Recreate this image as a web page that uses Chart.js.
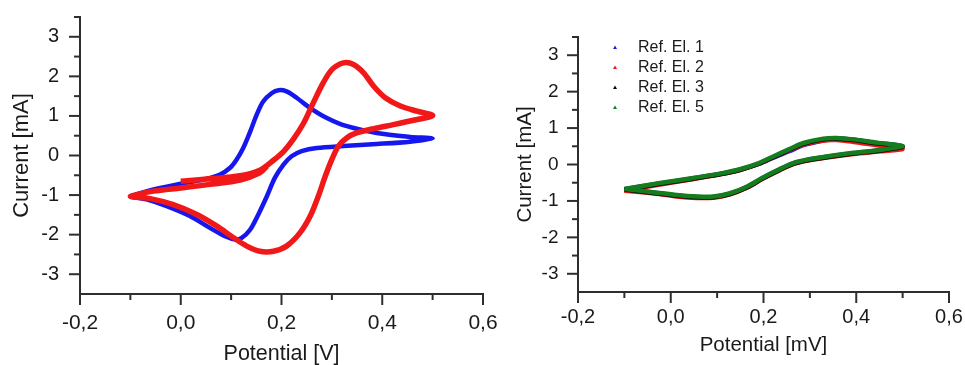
<!DOCTYPE html>
<html>
<head>
<meta charset="utf-8">
<script src="https://cdn.jsdelivr.net/npm/chart.js@4/dist/chart.umd.min.js"></script>
<style>
  html, body { margin: 0; padding: 0; background: #fff; }
  #wrap { position: relative; width: 965px; height: 365px; overflow: hidden; }
  #cvA { position: absolute; left: 0; top: 0; }
  #cvB { position: absolute; left: 490px; top: 0; }
</style>
</head>
<body>
<div id="wrap">
  <canvas id="cvA" width="510" height="365"></canvas>
  <canvas id="cvB" width="475" height="365"></canvas>
</div>
<script>
// ---- axis ticks ----
const potentialTicks = [-0.2, 0.0, 0.2, 0.4, 0.6];
const potentialMinor = [-0.1, 0.1, 0.3, 0.5];
const currentTicks = [-3, -2, -1, 0, 1, 2, 3];
const currentMinor = [-2.5, -1.5, -0.5, 0.5, 1.5, 2.5, 3.5];

// ---- left panel: two voltammograms ----
const leftBlueV = [-0.1, -0.054, 0.0, 0.045, 0.078, 0.098, 0.111, 0.124, 0.138, 0.151, 0.164, 0.181, 0.194, 0.21, 0.23, 0.257, 0.29, 0.33, 0.389, 0.455, 0.5,
                   0.455, 0.389, 0.323, 0.27, 0.24, 0.22, 0.204, 0.187, 0.171, 0.154, 0.138, 0.121, 0.108, 0.088, 0.058, 0.018, -0.028, -0.068, -0.1];
const leftBlueI = [-1.03, -0.86, -0.71, -0.61, -0.48, -0.31, -0.10, 0.19, 0.61, 1.04, 1.37, 1.58, 1.65, 1.62, 1.46, 1.20, 0.95, 0.74, 0.57, 0.47, 0.43,
                   0.35, 0.29, 0.24, 0.19, 0.11, -0.02, -0.23, -0.56, -1.03, -1.49, -1.87, -2.08, -2.12, -2.04, -1.83, -1.53, -1.28, -1.11, -1.03];

const leftRedV = [0.0, 0.058, 0.118, 0.157, 0.184, 0.204, 0.224, 0.244, 0.263, 0.283, 0.30, 0.323, 0.343, 0.363, 0.383, 0.406, 0.436, 0.469, 0.5,
                  0.462, 0.422, 0.383, 0.349, 0.33, 0.313, 0.30, 0.287, 0.273, 0.257, 0.237, 0.21, 0.184, 0.157, 0.131, 0.105, 0.071, 0.032, -0.015, -0.061, -0.1,
                  -0.054, 0.0, 0.058, 0.118, 0.157, 0.171];
const leftRedI = [-0.65, -0.59, -0.51, -0.37, -0.12, 0.10, 0.42, 0.82, 1.33, 1.84, 2.17, 2.34, 2.30, 2.09, 1.75, 1.46, 1.25, 1.12, 1.01,
                  0.89, 0.78, 0.68, 0.57, 0.45, 0.24, -0.10, -0.52, -1.03, -1.53, -1.95, -2.29, -2.42, -2.42, -2.29, -2.08, -1.78, -1.49, -1.24, -1.09, -1.03,
                  -0.90, -0.82, -0.73, -0.62, -0.44, -0.27];

// ---- right panel: reference electrodes ----
const refLabels = ['Ref. El. 1', 'Ref. El. 2', 'Ref. El. 3', 'Ref. El. 5'];
const refV = [-0.1, -0.023, 0.049, 0.106, 0.149, 0.19, 0.221, 0.257, 0.286, 0.329, 0.358, 0.394, 0.444, 0.5,
              0.451, 0.394, 0.336, 0.293, 0.264, 0.236, 0.2, 0.164, 0.128, 0.092, 0.056, 0.013, -0.038, -0.1];
const refEl1I = [-0.68, -0.52, -0.38, -0.26, -0.14, 0.02, 0.19, 0.37, 0.53, 0.66, 0.71, 0.68, 0.59, 0.50,
                 0.39, 0.31, 0.21, 0.12, 0.03, -0.13, -0.36, -0.62, -0.80, -0.89, -0.89, -0.85, -0.77, -0.68];
const refEl2I = [-0.72, -0.55, -0.40, -0.27, -0.15, 0.02, 0.20, 0.40, 0.55, 0.66, 0.67, 0.62, 0.53, 0.43,
                 0.36, 0.29, 0.19, 0.10, 0.01, -0.15, -0.38, -0.64, -0.82, -0.91, -0.92, -0.88, -0.79, -0.72];
const refEl3I = [-0.69, -0.53, -0.39, -0.27, -0.15, 0.02, 0.20, 0.41, 0.57, 0.69, 0.71, 0.67, 0.58, 0.49,
                 0.38, 0.30, 0.20, 0.11, 0.02, -0.14, -0.37, -0.63, -0.81, -0.90, -0.90, -0.86, -0.78, -0.69];
const refEl5I = [-0.67, -0.51, -0.37, -0.25, -0.13, 0.04, 0.22, 0.43, 0.59, 0.71, 0.73, 0.69, 0.60, 0.51,
                 0.40, 0.32, 0.22, 0.13, 0.04, -0.12, -0.35, -0.61, -0.79, -0.88, -0.88, -0.84, -0.76, -0.67];

const TEXT = '#1a1a1a';
const AXIS = '#2e2e2e';
const FONT = "'Liberation Sans', Arial, sans-serif";

Chart.defaults.font.family = FONT;
Chart.defaults.color = TEXT;

const pts = (xs, ys) => xs.map((v, i) => ({ x: v, y: ys[i] }));
const commaFmt = v => v.toFixed(1).replace('.', ',');

// Outward major/minor tick marks on the bottom and left axes
const axisTicks = {
  id: 'axisTicks',
  afterDraw(chart) {
    const { ctx, chartArea } = chart;
    const sx = chart.scales.x, sy = chart.scales.y;
    const seg = (x1, y1, x2, y2) => { ctx.beginPath(); ctx.moveTo(x1, y1); ctx.lineTo(x2, y2); ctx.stroke(); };
    ctx.save();
    ctx.strokeStyle = AXIS;
    ctx.lineWidth = 2;
    const b = chartArea.bottom, l = chartArea.left;
    potentialTicks.forEach(v => { const p = sx.getPixelForValue(v); seg(p, b, p, b + 11); });
    potentialMinor.forEach(v => { const p = sx.getPixelForValue(v); seg(p, b, p, b + 6); });
    currentTicks.forEach(v => { const p = sy.getPixelForValue(v); seg(l, p, l - 11, p); });
    currentMinor.forEach(v => { const p = sy.getPixelForValue(v); seg(l, p, l - 6, p); });
    ctx.restore();
  }
};

// Legend drawn as a column of small markers with labels
const refLegend = {
  id: 'refLegend',
  afterDraw(chart, args, opts) {
    const { ctx } = chart;
    ctx.save();
    ctx.font = opts.size + 'px ' + FONT;
    ctx.textBaseline = 'middle';
    ctx.textAlign = 'left';
    const order = [...chart.data.datasets].sort((a, b) => a.legendIndex - b.legendIndex);
    order.forEach((ds, i) => {
      const y = opts.top + i * opts.step;
      ctx.fillStyle = ds.borderColor;
      ctx.beginPath();
      ctx.moveTo(opts.markX, y - 2);
      ctx.lineTo(opts.markX + 2, y + 1.5);
      ctx.lineTo(opts.markX - 2, y + 1.5);
      ctx.closePath();
      ctx.fill();
      ctx.fillStyle = TEXT;
      ctx.fillText(ds.label, opts.textX, y);
    });
    ctx.restore();
  }
};

function axes(o) {
  return {
    x: {
      type: 'linear', min: -0.2, max: 0.6,
      afterBuildTicks: s => { s.ticks = potentialTicks.map(v => ({ value: v })); },
      afterFit: s => { s.height = o.xH; s.paddingLeft = 0; s.paddingRight = 0; },
      grid: { display: false, drawTicks: false },
      border: { display: true, color: AXIS, width: 2 },
      ticks: { autoSkip: false, maxRotation: 0, padding: o.xPad, color: TEXT,
               font: { size: o.xTick, lineHeight: 1 }, callback: v => commaFmt(v) },
      title: { display: true, text: o.xTitle, color: TEXT,
               font: { size: o.xTitleSize, lineHeight: 1 }, padding: { top: 0, bottom: o.xTitlePad } }
    },
    y: {
      type: 'linear', min: -3.5, max: 3.5,
      afterBuildTicks: s => { s.ticks = currentTicks.map(v => ({ value: v })); },
      afterFit: s => { s.width = o.yW; s.paddingTop = 0; s.paddingBottom = 0; },
      grid: { display: false, drawTicks: false },
      border: { display: true, color: AXIS, width: 2 },
      ticks: { padding: o.yPad, color: TEXT, font: { size: o.yTick, lineHeight: 1 }, callback: v => String(v) },
      title: { display: true, text: 'Current [mA]', color: TEXT,
               font: { size: o.yTitleSize, lineHeight: 1 }, padding: { top: o.yTitlePad, bottom: 0 } }
    }
  };
}

const lineDs = (label, xs, ys, color, width, order, legendIndex) => ({
  label, data: pts(xs, ys), showLine: true, borderColor: color, backgroundColor: color,
  borderWidth: width, pointRadius: 0, tension: 0.3, fill: false, order, legendIndex
});

new Chart(document.getElementById('cvA'), {
  type: 'scatter',
  data: {
    datasets: [
      lineDs('blue', leftBlueV, leftBlueI, 'rgb(22,22,238)', 4.5, 1, 0),
      lineDs('red', leftRedV, leftRedI, 'rgb(240,24,24)', 5.5, 0, 1)
    ]
  },
  options: {
    responsive: false, animation: false, devicePixelRatio: 1,
    layout: { padding: { top: 17, right: 27, left: 0, bottom: 0 } },
    plugins: { legend: { display: false }, tooltip: { enabled: false } },
    scales: axes({ xH: 71, xPad: 19, xTick: 21, xTitle: 'Potential [V]', xTitleSize: 21.5, xTitlePad: 0,
                   yW: 80, yPad: 21, yTick: 20, yTitleSize: 22, yTitlePad: 11 })
  },
  plugins: [axisTicks]
});

new Chart(document.getElementById('cvB'), {
  type: 'scatter',
  data: {
    datasets: [
      lineDs(refLabels[0], refV, refEl1I, 'rgb(30,30,230)', 4.5, 3, 0),
      lineDs(refLabels[1], refV, refEl2I, 'rgb(235,25,25)', 4.5, 2, 1),
      lineDs(refLabels[2], refV, refEl3I, 'rgb(10,10,10)', 4.5, 1, 2),
      lineDs(refLabels[3], refV, refEl5I, 'rgb(20,125,30)', 4.5, 0, 3)
    ]
  },
  options: {
    responsive: false, animation: false, devicePixelRatio: 1,
    layout: { padding: { top: 37, right: 16, left: 0, bottom: 0 } },
    plugins: {
      legend: { display: false }, tooltip: { enabled: false },
      refLegend: { markX: 125, textX: 148, top: 47.5, step: 20, size: 16 }
    },
    scales: axes({ xH: 73, xPad: 15.5, xTick: 20, xTitle: 'Potential [mV]', xTitleSize: 20.5, xTitlePad: 9,
                   yW: 88, yPad: 19.5, yTick: 19, yTitleSize: 20.5, yTitlePad: 25 })
  },
  plugins: [axisTicks, refLegend]
});
</script>
</body>
</html>
